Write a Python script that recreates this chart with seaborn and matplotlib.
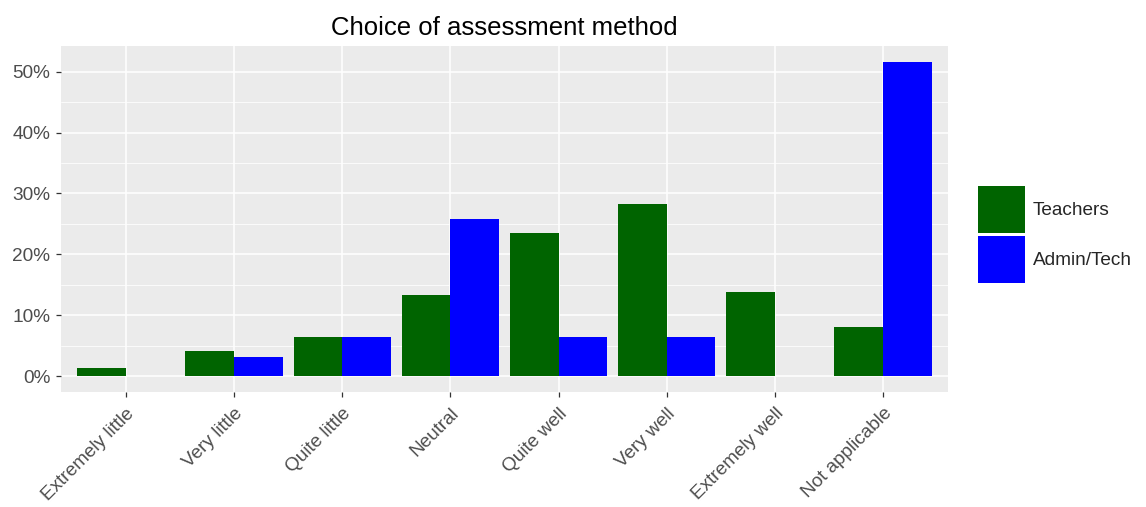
import matplotlib
matplotlib.use("Agg")
import matplotlib.pyplot as plt
from matplotlib.patches import Patch
from matplotlib.ticker import FuncFormatter, MultipleLocator
import seaborn as sns
import pandas as pd

categories = ["Extremely little", "Very little", "Quite little", "Neutral",
              "Quite well", "Very well", "Extremely well", "Not applicable"]
teachers = [1.4, 4.2, 6.5, 13.4, 23.5, 28.3, 13.9, 8.1]
admin_tech = [0.0, 3.2, 6.45, 25.8, 6.45, 6.45, 0.0, 51.6]
groups = ["Teachers", "Admin/Tech"]
colors = {"Teachers": "#006400", "Admin/Tech": "#0000FF"}

df = pd.DataFrame({
    "category": categories * 2,
    "group": [groups[0]] * len(categories) + [groups[1]] * len(categories),
    "value": teachers + admin_tech,
})

sns.set_theme(style="white")
plt.rcParams["font.family"] = ["Liberation Sans", "DejaVu Sans"]

W, H = 1146, 507
fig = plt.figure(figsize=(W / 100, H / 100), dpi=100)
ax = fig.add_axes([61 / W, 1 - 392 / H, 887 / W, 346 / H])
ax.set_facecolor("#EBEBEB")

sns.barplot(data=df, x="category", y="value", hue="group", order=categories,
            hue_order=groups, palette=colors, width=0.9, saturation=1,
            ax=ax, legend=False, zorder=3)
for p in ax.patches:
    p.set_edgecolor("none")
    p.set_linewidth(0)

ax.set_ylim(-2.58, 54.2)
ax.set_xlim(-0.6, 7.6)
ax.yaxis.set_major_locator(MultipleLocator(10))
ax.yaxis.set_minor_locator(MultipleLocator(5))
ax.yaxis.set_major_formatter(FuncFormatter(lambda v, _: f"{v:.0f}%"))
ax.grid(which="major", color="white", linewidth=1.1, zorder=0)
ax.grid(which="minor", axis="y", color="white", linewidth=0.55, zorder=0)
ax.set_axisbelow(True)
for s in ax.spines.values():
    s.set_visible(False)

ax.tick_params(axis="both", which="major", length=3.8, width=0.9, color="#333333",
               labelcolor="#4D4D4D", labelsize=13.7, pad=4, bottom=True, left=True)
ax.tick_params(axis="x", which="major", pad=5.5)
ax.tick_params(axis="y", which="minor", length=0)
plt.setp(ax.get_xticklabels(), rotation=45, ha="right", va="top",
         rotation_mode="anchor")
ax.set_xlabel("")
ax.set_ylabel("")
ax.set_title("Choice of assessment method", fontsize=18.5, color="black", pad=8)

handles = [Patch(facecolor=colors[g], edgecolor="none", label=g) for g in groups]
fs = 13.7
fs_px = fs * 100 / 72
key_px = 47
# drawing-area height = fs*(0.65*h + 0.245)
hh = (key_px / fs_px - 0.245) / 0.65
leg = fig.legend(handles=handles, loc="upper left",
                 bbox_to_anchor=(978 / W, 1 - 186 / H), bbox_transform=fig.transFigure,
                 frameon=False, fontsize=fs, handlelength=key_px / fs_px,
                 handleheight=hh, labelspacing=3 / fs_px, handletextpad=8 / fs_px,
                 borderpad=0, borderaxespad=0)

fig.savefig("out.png", dpi=100, facecolor="white")
